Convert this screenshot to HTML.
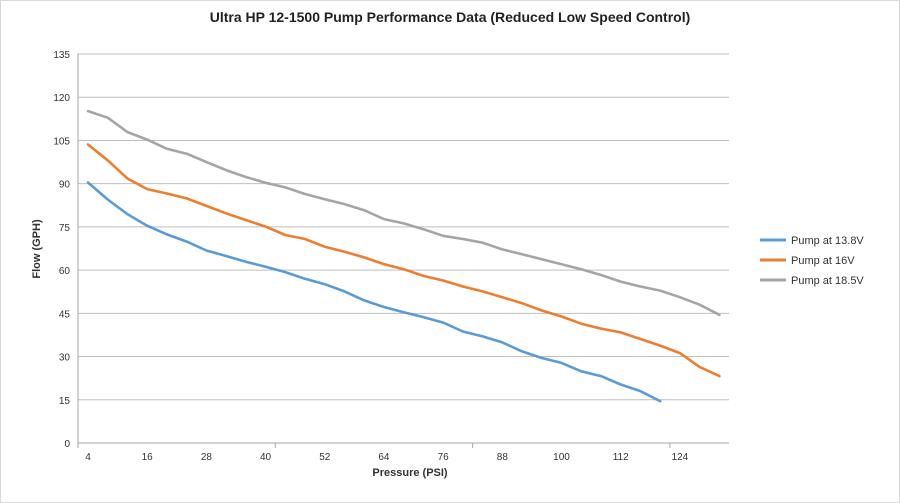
<!DOCTYPE html>
<html><head><meta charset="utf-8"><style>
html,body{margin:0;padding:0;background:#fff;}
svg{display:block;font-family:"Liberation Sans",Arial,sans-serif;}
</style></head><body>
<svg id="c" width="900" height="503" viewBox="0 0 900 503" xmlns="http://www.w3.org/2000/svg">
<rect x="0" y="0" width="900" height="503" fill="#fff"/>
<rect x="0.5" y="0.5" width="899" height="502" fill="none" stroke="#d9d9d9"/>
<text x="450" y="22" text-anchor="middle" font-size="14" font-weight="bold" fill="#222">Ultra HP 12-1500 Pump Performance Data (Reduced Low Speed  Control)</text>
<g id="grid"></g>
<g id="series"></g>
<text x="410" y="476" font-size="11" font-weight="bold" fill="#333" text-anchor="middle">Pressure (PSI)</text>
<text transform="translate(40,249) rotate(-90)" font-size="11" font-weight="bold" fill="#333" text-anchor="middle">Flow (GPH)</text>
<g font-size="11" fill="#333">
<line x1="760" y1="240" x2="786" y2="240" stroke="#5b9bd5" stroke-width="3"/><text x="791" y="244">Pump at 13.8V</text>
<line x1="760" y1="260" x2="786" y2="260" stroke="#ed7d31" stroke-width="3"/><text x="791" y="264">Pump at 16V</text>
<line x1="760" y1="280" x2="786" y2="280" stroke="#a5a5a5" stroke-width="3"/><text x="791" y="284">Pump at 18.5V</text>
</g>
</svg>
<script>
var ns="http://www.w3.org/2000/svg";
function el(t,a,p,txt){var e=document.createElementNS(ns,t);for(var k in a)e.setAttribute(k,a[k]);if(txt!==undefined)e.textContent=txt;p.appendChild(e);return e;}
var g=document.getElementById('grid'),s=document.getElementById('series');
function Y(v){return 443-v*2.8815;}
function X(i){return 88+i*19.73;}
for(var v=0;v<=135;v+=15){var y=Y(v);
 if(v>0)el('line',{x1:78,x2:729,y1:y,y2:y,stroke:'#bfbfbf','stroke-width':1},g);
 el('text',{x:70,y:y+4,'text-anchor':'end','font-size':10,fill:'#333'},g,String(v));}
el('line',{x1:78,x2:729,y1:443,y2:443,stroke:'#a6a6a6'},g);
el('line',{x1:78,x2:78,y1:54,y2:443,stroke:'#a6a6a6'},g);
for(var k=0;k<=3;k++){var tx=78+k*197.3;el('line',{x1:tx,x2:tx,y1:443,y2:448,stroke:'#a6a6a6'},g);}
for(var i=0;i<=30;i+=3){el('text',{x:X(i),y:460,'text-anchor':'middle','font-size':10,fill:'#333'},g,String(4+4*i));}
var gray=[115.2,112.9,107.9,105.3,102.1,100.4,97.5,94.7,92.3,90.3,88.7,86.4,84.6,82.9,80.8,77.7,76.2,74.2,71.9,70.8,69.5,67.2,65.5,63.8,62.0,60.3,58.3,56.0,54.3,52.9,50.6,48.0,44.5];
var orange=[103.6,98.1,91.8,88.1,86.6,84.9,82.3,79.7,77.4,75.1,72.2,70.8,68.1,66.4,64.4,62.1,60.3,58.0,56.4,54.3,52.6,50.6,48.5,46.0,43.9,41.4,39.7,38.4,36.1,33.8,31.2,26.4,23.2];
var blue=[90.4,84.5,79.4,75.4,72.4,69.9,66.8,64.9,62.9,61.2,59.3,57.0,55.1,52.6,49.5,47.2,45.4,43.7,41.8,38.7,37.0,34.9,31.8,29.5,27.8,24.9,23.2,20.3,18.0,14.5];
[[gray,'#a5a5a5'],[orange,'#ed7d31'],[blue,'#5b9bd5']].forEach(function(d){
 var pts=d[0].map(function(v,i){return X(i).toFixed(1)+','+Y(v).toFixed(1);}).join(' ');
 el('polyline',{points:pts,fill:'none',stroke:d[1],'stroke-width':2.6,'stroke-linejoin':'round','stroke-linecap':'round'},s);
});
</script>
</body></html>
